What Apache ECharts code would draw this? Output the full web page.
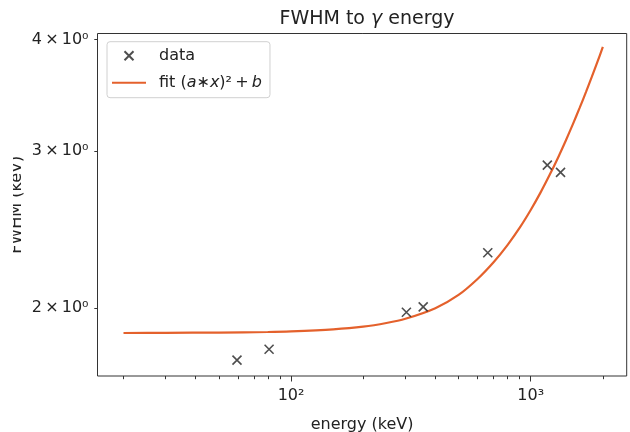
<!DOCTYPE html>
<html>
<head>
<meta charset="utf-8">
<script src="https://cdn.jsdelivr.net/npm/echarts@6/dist/echarts.min.js"></script>
<style>
  html, body { margin: 0; padding: 0; background: #fff; }
  #fwhm-chart { width: 630px; height: 432px; }
</style>
</head>
<body>
<div id="fwhm-chart"></div>
<script>
  // measured points (keV, keV)
  var dataEnergy = [59.5, 81, 302.9, 356, 662, 1173, 1332];
  var dataFwhm = [1.747, 1.797, 1.977, 2.005, 2.306, 2.892, 2.838];

  // fit curve
  var fitEnergy = [20, 30, 50, 80, 100, 150, 200, 250, 300, 400, 500, 600, 700, 800, 900,
    1000, 1100, 1200, 1300, 1400, 1500, 1600, 1700, 1800, 1900, 2000];
  var fitFwhm = [1.874, 1.875, 1.876, 1.879, 1.882, 1.892, 1.905, 1.923, 1.944, 1.998, 2.068, 2.155, 2.250, 2.352, 2.460,
    2.575, 2.695, 2.820, 2.948, 3.080, 3.215, 3.352, 3.492, 3.634, 3.778, 3.925];

  var xMajorTicks = [100, 1000];
  var xMinorTicks = [20, 30, 40, 50, 60, 70, 80, 90, 200, 300, 400, 500, 600, 700, 800, 900, 2000];
  var yTicks = [2, 3, 4];
  var xRange = [15.58, 2515];
  var yRange = [1.677, 4.063];

  var FONT = 'DejaVu Sans';
  var INK = '#222';
  var crossPath = 'path://M0,0L10,10M10,0L0,10';
  var sup = { 0: '\u2070', 2: '\u00b2', 3: '\u00b3' };

  function lg(v) { return Math.log10(v); }

  var scatterData = dataEnergy.map(function(e, i) { return [lg(e), lg(dataFwhm[i])]; });
  var fitData = fitEnergy.map(function(e, i) { return [lg(e), lg(fitFwhm[i])]; });

  var fwhmChart = echarts.init(document.getElementById('fwhm-chart'), null, { renderer: 'canvas' });

  var option = {
    animation: false,
    textStyle: { fontFamily: FONT },
    title: {
      text: '{n|FWHM to }{g|\u03b3}{n| energy}',
      left: 362,
      top: 5,
      textAlign: 'center',
      textStyle: {
        fontWeight: 'normal',
        rich: {
          n: { fontFamily: FONT, fontSize: 19, color: INK, fontWeight: 'normal' },
          g: { fontFamily: FONT, fontSize: 19, color: INK, fontWeight: 'normal', fontStyle: 'italic' }
        }
      }
    },
    grid: {
      left: 97.5, right: 3.3, top: 33.5, bottom: 56,
      containLabel: false,
      outerBoundsMode: 'none',
      show: true, borderColor: '#333', borderWidth: 1, backgroundColor: 'transparent'
    },
    legend: {
      orient: 'vertical',
      left: 107, top: 41.7,
      padding: [6, 8, 7, 4],
      itemGap: 11,
      itemWidth: 34, itemHeight: 9,
      backgroundColor: 'rgba(255,255,255,0.8)',
      borderColor: '#d0d0d0', borderWidth: 1, borderRadius: 3,
      data: [
        { name: 'data', icon: crossPath },
        { name: 'fit', itemStyle: { color: 'rgba(0,0,0,0)', borderWidth: 0 } }
      ],
      formatter: function(name) {
        if (name === 'data') return '{f|data}';
        return '{f|fit (}{i|a}{t|\u2217}{i|x}{t|)\u00b2\u2009+\u2009}{i|b}';
      },
      textStyle: {
        fontFamily: FONT, fontSize: 16, color: INK, lineHeight: 16,
        rich: {
          f: { fontFamily: FONT, fontSize: 16, color: INK, padding: [0, 0, 0, 8] },
          t: { fontFamily: FONT, fontSize: 16, color: INK },
          i: { fontFamily: FONT, fontSize: 16, color: INK, fontStyle: 'italic' }
        }
      }
    },
    xAxis: [{
      type: 'value',
      min: lg(xRange[0]), max: lg(xRange[1]),
      axisLine: { show: false },
      splitLine: { show: false },
      axisTick: { customValues: xMajorTicks.map(lg), length: 5.5, lineStyle: { color: '#333', width: 1 } },
      axisLabel: {
        customValues: xMajorTicks.map(lg),
        margin: 12, fontSize: 16, color: INK, fontFamily: FONT,
        formatter: function(v) { return '10' + sup[Math.round(v)]; }
      },
      name: 'energy (keV)',
      nameLocation: 'middle',
      nameGap: 41,
      nameMoveOverlap: false,
      nameTextStyle: { fontFamily: FONT, fontSize: 16, color: INK }
    }, {
      type: 'value',
      gridIndex: 0,
      position: 'bottom',
      min: lg(xRange[0]), max: lg(xRange[1]),
      axisLine: { show: false },
      splitLine: { show: false },
      axisTick: { customValues: xMinorTicks.map(lg), length: 3.2, lineStyle: { color: '#333', width: 1 } },
      axisLabel: { show: false }
    }],
    yAxis: {
      type: 'value',
      min: lg(yRange[0]), max: lg(yRange[1]),
      axisLine: { show: false },
      splitLine: { show: false },
      axisTick: { customValues: yTicks.map(lg), length: 3.2, lineStyle: { color: '#333', width: 1 } },
      axisLabel: {
        customValues: yTicks.map(lg),
        margin: 9, fontSize: 16, color: INK, fontFamily: FONT,
        formatter: function(v) { return Math.round(Math.pow(10, v)) + '\u2009\u00d7\u200910' + sup[0]; }
      },
      name: 'FWHM (keV)',
      nameLocation: 'middle',
      nameRotate: 90,
      nameGap: 73,
      nameMoveOverlap: false,
      nameTextStyle: { fontFamily: FONT, fontSize: 16, color: INK }
    },
    series: [{
      name: 'data',
      type: 'scatter',
      data: scatterData,
      symbol: crossPath,
      symbolSize: 9,
      symbolKeepAspect: true,
      itemStyle: { color: 'rgba(0,0,0,0)', borderColor: INK, borderWidth: 1.6 },
      emphasis: { disabled: true },
      z: 3
    }, {
      name: 'fit',
      type: 'line',
      data: fitData,
      symbol: 'none',
      smooth: 0.3,
      lineStyle: { color: '#e4612c', width: 2.2 },
      itemStyle: { color: '#e4612c' },
      emphasis: { disabled: true },
      z: 2
    }],
    // the left edge of the y label is cut off in the original picture
    graphic: {
      elements: [{
        type: 'rect', left: 0, top: 0, z: 100,
        shape: { width: 13, height: 432 },
        style: { fill: '#fff' }
      }]
    }
  };

  fwhmChart.setOption(option);
</script>
</body>
</html>
